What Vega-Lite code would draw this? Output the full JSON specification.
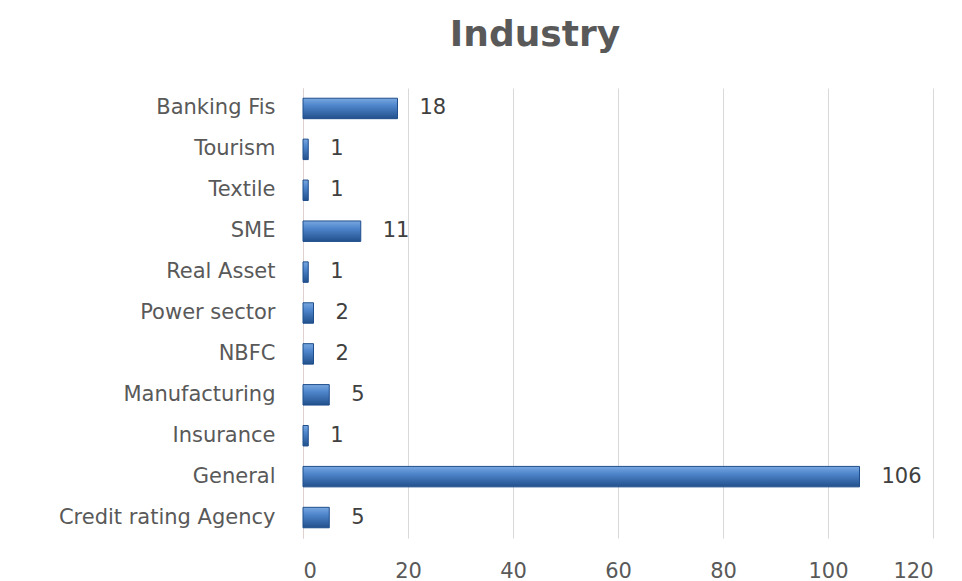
{
  "$schema": "https://vega.github.io/schema/vega-lite/v6.json",
  "autosize": "none",
  "width": 630,
  "height": 450,
  "padding": {"left": 303, "top": 88, "right": 29, "bottom": 43},
  "background": "white",
  "config": {"view": {"stroke": null}},
  "title": {"text": "Industry", "fontSize": 36, "font": "DejaVu Sans", "fontWeight": "bold", "color": "#595959", "anchor": "middle", "dx": -83, "offset": 34},
  "data": {"values": [
    {"industry": "Banking Fis", "count": 18},
    {"industry": "Tourism", "count": 1},
    {"industry": "Textile", "count": 1},
    {"industry": "SME", "count": 11},
    {"industry": "Real Asset", "count": 1},
    {"industry": "Power sector", "count": 2},
    {"industry": "NBFC", "count": 2},
    {"industry": "Manufacturing", "count": 5},
    {"industry": "Insurance", "count": 1},
    {"industry": "General", "count": 106},
    {"industry": "Credit rating Agency", "count": 5}
  ]},
  "encoding": {
    "y": {"field": "industry", "type": "nominal", "sort": null, "scale": {"paddingInner": 0.5, "paddingOuter": 0.25},
      "axis": {"title": null, "ticks": false, "domain": true, "domainColor": "#e0d0d0", "labelFont": "DejaVu Sans", "labelFontSize": 21, "labelColor": "#595959", "labelPadding": 28, "labelLimit": 400}},
    "x": {"field": "count", "type": "quantitative", "scale": {"domain": [0, 120]},
      "axis": {"title": null, "values": [0, 20, 40, 60, 80, 100, 120], "ticks": false, "domain": false, "grid": true, "gridColor": "#d9d9d9", "labelFont": "DejaVu Sans", "labelFontSize": 21, "labelColor": "#595959", "labelPadding": 22}}
  },
  "layer": [
    {"mark": {"type": "bar", "stroke": "#1f4e8c", "strokeWidth": 1,
      "color": {"gradient": "linear", "x1": 0, "y1": 0, "x2": 0, "y2": 1,
        "stops": [{"offset": 0, "color": "#7aa8e0"}, {"offset": 0.35, "color": "#4f86cc"}, {"offset": 1, "color": "#22508c"}]}}},
    {"mark": {"type": "text", "align": "left", "baseline": "middle", "dx": 22, "font": "DejaVu Sans", "fontSize": 21, "color": "#404040"},
      "encoding": {"text": {"field": "count", "type": "quantitative"}}}
  ]
}
